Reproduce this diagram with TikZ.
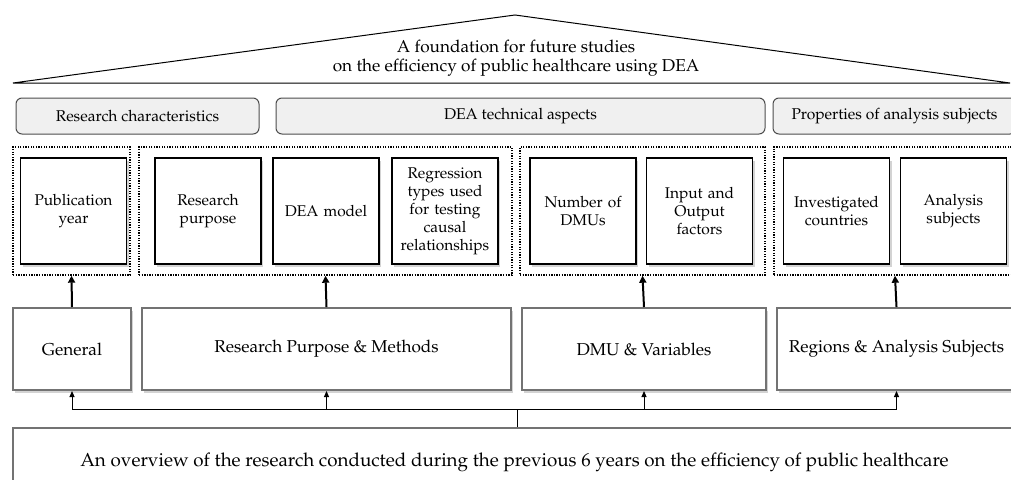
\documentclass[tikz,border=0pt]{standalone}
\usepackage[T1]{fontenc}
\usepackage{mathpazo}
\usetikzlibrary{shadows,arrows.meta}

\tikzset{
  catbox/.style={draw=black!70, fill=black!6, rounded corners=6pt, line width=1pt,
    minimum height=36pt, inner sep=0pt, font=\fontsize{15.6}{18}\selectfont},
  groupbox/.style={draw, line width=1.4pt, dash pattern=on 1.3pt off 1.3pt,
    minimum height=128pt, inner sep=0pt},
  itembox/.style={draw, line width=1.4pt, fill=white, minimum width=106pt,
    minimum height=106pt, text width=102pt, align=center, inner sep=0pt,
    drop shadow={shadow xshift=2pt, shadow yshift=-2.5pt, opacity=0.35},
    font=\fontsize{15.5}{18}\selectfont},
  areabox/.style={draw=black!55, line width=2pt, fill=white, minimum height=82pt,
    inner sep=0pt, drop shadow={shadow xshift=2pt, shadow yshift=-2.5pt, opacity=0.35},
    font=\fontsize{17.2}{20}\selectfont},
  uparr/.style={-{Triangle[length=7pt,width=7pt]}, line width=2pt},
  busarr/.style={-{Triangle[length=6pt,width=5pt]}, line width=1pt}
}

\begin{document}
\begin{tikzpicture}[x=1pt, y=-1pt]
    \useasboundingbox (0,0) rectangle (1011,479);
    % Roof with the overall aim
    \coordinate (eaveL) at (13,83);
    \coordinate (ridge) at (515,15);
    \coordinate (eaveR) at (1010,83);
    \draw[line width=1pt] (eaveL) -- (ridge) -- (eaveR) -- cycle;
    \node[align=center, font=\fontsize{17.2}{19.5}\selectfont] (title) at (516,58)
        {A foundation for future studies\\on the efficiency of public healthcare using DEA};
    % Category headers
    \node[catbox, minimum width=243pt] (rcat) at (137.5,116) {Research characteristics};
    \node[catbox, minimum width=489pt] (tcat) at (520.5,116) {DEA technical aspects};
    \node[catbox, minimum width=243pt] (pcat) at (894.5,116) {Properties of analysis subjects};
    % Dotted groups
    \node[groupbox, minimum width=117pt] (g1) at (71.5,211) {};
    \node[groupbox, minimum width=373pt] (g2) at (325.5,211) {};
    \node[groupbox, minimum width=245pt] (g3) at (642.5,211) {};
    \node[groupbox, minimum width=242pt] (g4) at (895,211) {};
    % Items in each group
    \node[itembox] (pub) at (73.5,211) {Publication\\year};
    \node[itembox] (purp) at (208,211) {Research\\purpose};
    \node[itembox] (model) at (326,211) {DEA model};
    \node[itembox] (regr) at (445,211) {Regression\\types used\\for testing\\causal\\relationships};
    \node[itembox] (ndmu) at (583,211) {Number of\\DMUs};
    \node[itembox] (io) at (699.5,211) {Input and\\Output\\factors};
    \node[itembox] (ctry) at (836.5,211) {Investigated\\countries};
    \node[itembox] (subj) at (953.5,211) {Analysis\\subjects};
    % Review areas
    \node[areabox, minimum width=118pt] (gen) at (72,349) {General};
    \node[areabox, minimum width=369pt] (rpm) at (326.5,349) {Research Purpose \& Methods};
    \node[areabox, minimum width=244pt] (dmu) at (644,349) {DMU \& Variables};
    \node[areabox, minimum width=239pt] (reg) at (896.5,349) {Regions \& Analysis Subjects};
    \draw[uparr] (gen.north) -- (g1.south);
    \draw[uparr] (rpm.north) -- (g2.south);
    \draw[uparr] (dmu.north) -- (g3.south);
    \draw[uparr] (reg.north) -- (g4.south);
    % Overview at the base
    \node[areabox, drop shadow={opacity=0}, minimum width=1003pt, minimum height=68pt,
        font=\fontsize{18.8}{22}\selectfont] (overview) at (514.5,462)
        {An overview of the research conducted during the previous 6 years on the efficiency of public healthcare};
    \coordinate (hub) at (517,409);
    \draw[line width=1pt] (overview.north -| hub) -- (hub);
    \draw[busarr] (hub) -| (gen.south);
    \draw[busarr] (hub) -| (rpm.south);
    \draw[busarr] (hub) -| (dmu.south);
    \draw[busarr] (hub) -| (reg.south);
\end{tikzpicture}
\end{document}
